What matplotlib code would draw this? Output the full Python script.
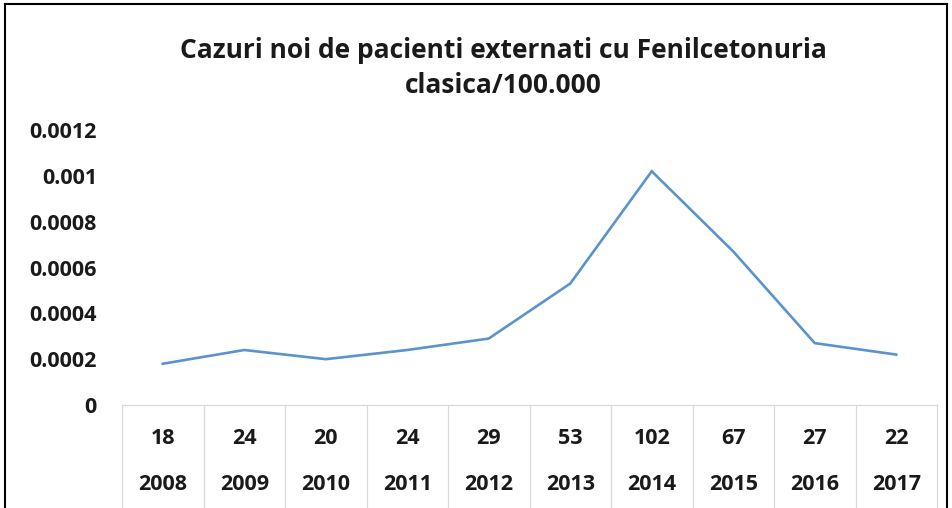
import matplotlib
matplotlib.use('Agg')
import matplotlib.pyplot as plt
from matplotlib.lines import Line2D

# date
years = ['2008', '2009', '2010', '2011', '2012', '2013', '2014', '2015', '2016', '2017']
cases = [18, 24, 20, 24, 29, 53, 102, 67, 27, 22]
rate = [0.00018, 0.00024, 0.00020, 0.00024, 0.00029, 0.00053, 0.00102, 0.00067, 0.00027, 0.00022]
yticks = [0, 0.0002, 0.0004, 0.0006, 0.0008, 0.001, 0.0012]
ytick_labels = ['0', '0.0002', '0.0004', '0.0006', '0.0008', '0.001', '0.0012']
title = 'Cazuri noi de pacienti externati cu Fenilcetonuria\nclasica/100.000'

plt.rcParams['font.family'] = ['Open Sans', 'DejaVu Sans']
plt.rcParams['font.weight'] = 'bold'

W, H = 952, 508
fs = 15.5
txt_c = '#1a1a1a'
fig = plt.figure(figsize=(W / 100, H / 100), dpi=100)
ax = fig.add_axes([122 / W, (H - 405) / H, (937 - 122) / W, (405 - 130) / H])

x = list(range(len(years)))
ax.plot(x, rate, color='#5b93cc', lw=1.9, solid_joinstyle='miter')
ax.set_xlim(-0.5, len(years) - 0.5)
ax.set_ylim(0, 0.0012)
ax.set_yticks(yticks)
ax.set_yticklabels(ytick_labels, fontsize=fs, fontweight='bold', color=txt_c)
ax.tick_params(axis='y', length=0, pad=18)
ax.set_xticks([])
for s in ax.spines.values():
    s.set_visible(False)

# tabelul de sub axa
grid_c = '#d9d9d9'
for i in range(len(years)):
    ax.annotate(str(cases[i]), (i, 0), xytext=(0, -33), textcoords='offset pixels',
                ha='center', va='center', fontsize=fs, fontweight='bold',
                color=txt_c, annotation_clip=False)
    ax.annotate(years[i], (i, 0), xytext=(0, -79), textcoords='offset pixels',
                ha='center', va='center', fontsize=fs, fontweight='bold',
                color=txt_c, annotation_clip=False)
for i in range(len(years) + 1):
    ax.add_line(Line2D([i - 0.5, i - 0.5], [0, -0.00045], color=grid_c, lw=0.9, clip_on=False))
ax.add_line(Line2D([-0.5, len(years) - 0.5], [0, 0], color=grid_c, lw=0.9, clip_on=False))

fig.text(503 / W, 1 - 68 / H, title, ha='center', va='center', fontsize=19,
         fontweight='bold', color=txt_c, linespacing=1.35)

# chenar
for xs, ys in [([5, 5], [0, 504]), ([5, 947], [504, 504]), ([947, 947], [0, 504])]:
    fig.add_artist(Line2D([v / W for v in xs], [v / H for v in ys], color='black', lw=1.5))

fig.savefig('out.png', dpi=100)
